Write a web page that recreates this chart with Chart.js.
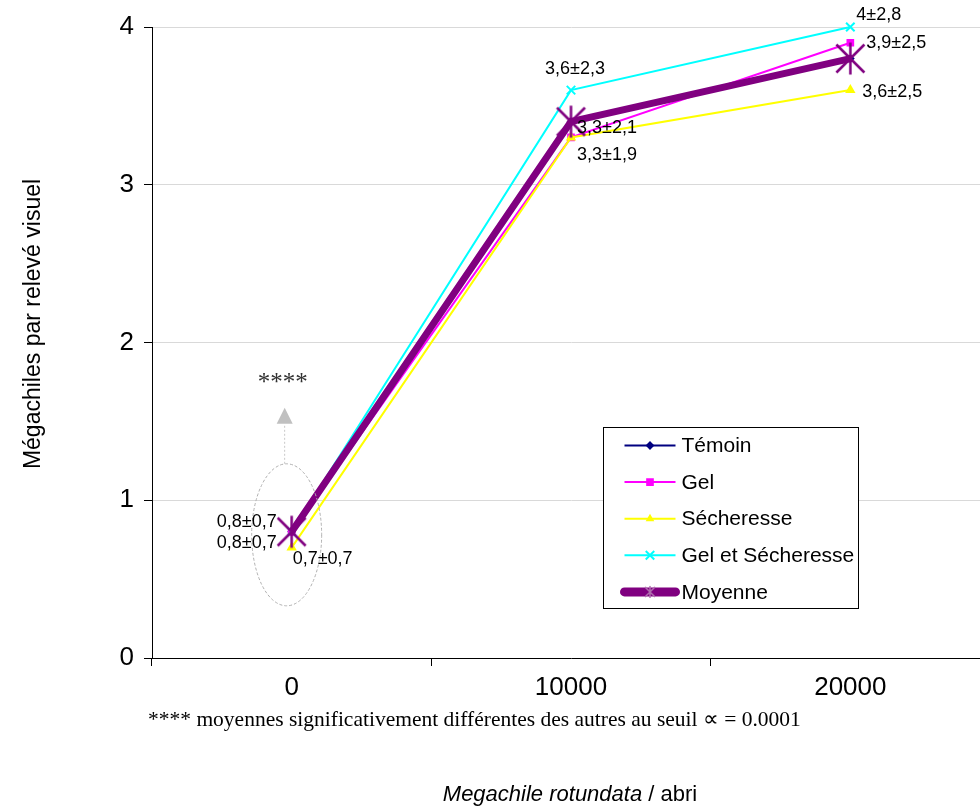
<!DOCTYPE html>
<html>
<head>
<meta charset="utf-8">
<script src="https://cdn.jsdelivr.net/npm/chart.js@4.4.1/dist/chart.umd.min.js"></script>
<style>
  html, body { margin: 0; padding: 0; background: #fff; overflow: hidden; width: 980px; height: 809px; }
  #wrap { position: relative; width: 1013px; height: 809px; }
  canvas { display: block; }
</style>
</head>
<body>
<div id="wrap"><canvas id="c" width="1013" height="809"></canvas></div>
<script>
// Abris : nombre de Megachile rotundata lâchées par abri
const categories = ['0', '10000', '20000'];

// Moyennes par relevé visuel et écarts-types
const temoin = [0.8, 3.4, 3.8];
const gel = [0.8, 3.3, 3.9];
const gelSd = [0.7, 2.1, 2.5];
const secheresse = [0.7, 3.3, 3.6];
const secheresseSd = [0.7, 1.9, 2.5];
const gelSecheresse = [0.8, 3.6, 4];
const gelSecheresseSd = [0.7, 2.3, 2.8];
const moyenne = [0.8, 3.4, 3.8];

const yTicks = [0, 1, 2, 3, 4];

const SANS = "'Liberation Sans', Arial, sans-serif";
const SERIF = "'Liberation Serif', 'Times New Roman', serif";

// Marqueur étoile (X + trait vertical) pour la moyenne
function starMarker(rv, rd, color, lw) {
  const s = Math.ceil(2 * Math.max(rv, rd) + lw + 2);
  const c = document.createElement('canvas');
  c.width = c.height = s;
  const g = c.getContext('2d');
  const m = s / 2;
  g.strokeStyle = color;
  g.lineWidth = lw;
  g.beginPath();
  g.moveTo(m, m - rv); g.lineTo(m, m + rv);
  g.moveTo(m - rd, m - rd); g.lineTo(m + rd, m + rd);
  g.moveTo(m + rd, m - rd); g.lineTo(m - rd, m + rd);
  g.stroke();
  return c;
}
const bigStar = starMarker(16, 14, '#800080', 2.5);
const smallStar = starMarker(6, 5, '#b070b0', 1.5);

const fmt = v => String(v).replace('.', ',');

// Étiquettes "moyenne ± écart-type" : décalage (dx, dy) et alignement par point
const labelSpecs = [
  { ds: 1, sd: gelSd, pos: [[-15, -10, 'right'], [6, -9, 'left'], [16, 0, 'left']] },
  { ds: 2, sd: secheresseSd, pos: [[1, 11, 'left'], [6, 18, 'left'], [12, 2, 'left']] },
  { ds: 3, sd: gelSecheresseSd, pos: [[-15, 11, 'right'], [4, -21, 'center'], [6, -12, 'left']] }
];

const valueLabels = {
  id: 'valueLabels',
  afterDatasetsDraw(chart) {
    const ctx = chart.ctx;
    ctx.save();
    ctx.font = '18px ' + SANS;
    ctx.fillStyle = '#000';
    ctx.textBaseline = 'middle';
    labelSpecs.forEach(spec => {
      const meta = chart.getDatasetMeta(spec.ds);
      const data = chart.data.datasets[spec.ds].data;
      meta.data.forEach((pt, i) => {
        const [dx, dy, align] = spec.pos[i];
        ctx.textAlign = align;
        ctx.fillText(fmt(data[i]) + '±' + fmt(spec.sd[i]), pt.x + dx, pt.y + dy);
      });
    });
    ctx.restore();
  }
};

// Ellipse, flèche et astérisques autour du point 0
const annotations = {
  id: 'annotations',
  afterDatasetsDraw(chart) {
    const ctx = chart.ctx;
    const xs = chart.scales.x, ys = chart.scales.y;
    const cx = xs.getPixelForValue(0) - 5;
    const cy = ys.getPixelForValue(moyenne[0]) + 3;
    ctx.save();
    ctx.strokeStyle = '#b0b0b0';
    ctx.lineWidth = 1;
    ctx.setLineDash([3, 2]);
    ctx.beginPath();
    ctx.ellipse(cx, cy, 35, 71, 0, 0, Math.PI * 2);
    ctx.stroke();
    const ax = cx - 2;
    ctx.strokeStyle = '#c8c8c8';
    ctx.setLineDash([2, 2]);
    ctx.beginPath();
    ctx.moveTo(ax, cy - 71);
    ctx.lineTo(ax, cy - 111);
    ctx.stroke();
    ctx.setLineDash([]);
    ctx.fillStyle = '#c0c0c0';
    ctx.beginPath();
    ctx.moveTo(ax, cy - 127);
    ctx.lineTo(ax - 8, cy - 111);
    ctx.lineTo(ax + 8, cy - 111);
    ctx.closePath();
    ctx.fill();
    ctx.fillStyle = '#333';
    ctx.font = '25px ' + SERIF;
    ctx.textAlign = 'center';
    ctx.textBaseline = 'middle';
    ctx.fillText('****', ax - 2, cy - 151);
    ctx.restore();
  }
};

// Légende encadrée dans la zone de tracé
const boxLegend = {
  id: 'boxLegend',
  afterDraw(chart) {
    const ctx = chart.ctx;
    const bx = 603.5, by = 427.5, bw = 255, bh = 181;
    ctx.save();
    ctx.fillStyle = '#fff';
    ctx.fillRect(bx, by, bw, bh);
    ctx.strokeStyle = '#000';
    ctx.lineWidth = 1;
    ctx.strokeRect(bx, by, bw, bh);
    ctx.font = '21px ' + SANS;
    ctx.textBaseline = 'middle';
    ctx.textAlign = 'left';
    chart.data.datasets.forEach((ds, i) => {
      const y = by + 18 + i * 36.6;
      ctx.strokeStyle = ds.borderColor;
      ctx.fillStyle = ds.backgroundColor;
      ctx.lineWidth = ds.label === 'Moyenne' ? 9 : 2;
      ctx.lineCap = ds.label === 'Moyenne' ? 'round' : 'butt';
      ctx.beginPath();
      ctx.moveTo(bx + 21, y);
      ctx.lineTo(bx + 72, y);
      ctx.stroke();
      ctx.lineCap = 'butt';
      const style = ds.label === 'Moyenne' ? smallStar : ds.pointStyle;
      Chart.helpers.drawPoint(ctx, {
        pointStyle: style,
        radius: ds.legendRadius,
        rotation: 0,
        borderWidth: ds.pointBorderWidth || 1
      }, bx + 46.5, y);
      ctx.fillStyle = '#000';
      ctx.fillText(ds.label, bx + 78, y + 1);
    });
    ctx.restore();
  }
};

// Titres d'axes et note de bas de figure
const texts = {
  id: 'texts',
  afterDraw(chart) {
    const ctx = chart.ctx;
    const a = chart.chartArea;
    ctx.save();
    ctx.fillStyle = '#000';
    // titre de l'axe vertical
    ctx.save();
    ctx.translate(34, 324);
    ctx.rotate(-Math.PI / 2);
    ctx.font = '23px ' + SANS;
    ctx.textAlign = 'center';
    ctx.textBaseline = 'middle';
    ctx.fillText('Mégachiles par relevé visuel', 0, 0);
    ctx.restore();
    // note
    ctx.font = '21.5px ' + SERIF;
    ctx.textAlign = 'left';
    ctx.textBaseline = 'middle';
    ctx.fillText('**** moyennes significativement différentes des autres au seuil ∝ = 0.0001', 148, a.bottom + 62);
    // titre de l'axe horizontal
    const italic = 'Megachile rotundata';
    const normal = ' / abri';
    ctx.font = 'italic 22px ' + SANS;
    const w1 = ctx.measureText(italic).width;
    ctx.font = '22px ' + SANS;
    const w2 = ctx.measureText(normal).width;
    const x0 = 570 - (w1 + w2) / 2;
    ctx.font = 'italic 22px ' + SANS;
    ctx.fillText(italic, x0, 795);
    ctx.font = '22px ' + SANS;
    ctx.fillText(normal, x0 + w1, 795);
    ctx.restore();
  }
};

const datasets = [
  { label: 'Témoin', data: temoin, borderColor: '#000080', backgroundColor: '#000080',
    borderWidth: 2, pointStyle: 'rectRot', pointRadius: 3, legendRadius: 3, order: 4 },
  { label: 'Gel', data: gel, borderColor: '#FF00FF', backgroundColor: '#FF00FF',
    borderWidth: 2, pointStyle: 'rect', pointRadius: 4, legendRadius: 4, order: 3 },
  { label: 'Sécheresse', data: secheresse, borderColor: '#FFFF00', backgroundColor: '#FFFF00',
    borderWidth: 2, pointStyle: 'triangle', pointRadius: 4, legendRadius: 3, order: 2 },
  { label: 'Gel et Sécheresse', data: gelSecheresse, borderColor: '#00FFFF', backgroundColor: '#00FFFF',
    borderWidth: 2, pointStyle: 'crossRot', pointRadius: 6, pointBorderWidth: 2, legendRadius: 6, order: 1 },
  { label: 'Moyenne', data: moyenne, borderColor: '#800080', backgroundColor: '#800080',
    borderWidth: 7, pointStyle: bigStar, pointRadius: 16, legendRadius: 6, order: 0 }
];
datasets.forEach(d => { d.clip = false; d.tension = 0; d.pointBorderColor = d.borderColor; d.pointBackgroundColor = d.backgroundColor; });

new Chart(document.getElementById('c'), {
  type: 'line',
  data: { labels: categories, datasets },
  options: {
    responsive: false,
    maintainAspectRatio: false,
    animation: false,
    devicePixelRatio: 1,
    layout: { padding: { top: 27, right: 0, left: 0, bottom: 0 } },
    plugins: { legend: { display: false }, tooltip: { enabled: false } },
    scales: {
      x: {
        type: 'category',
        offset: true,
        grid: { display: true, drawOnChartArea: false, drawTicks: true, tickLength: 8, tickColor: '#000', offset: true },
        border: { color: '#000', width: 1 },
        ticks: { font: { family: SANS, size: 26 }, color: '#000', padding: 6, maxRotation: 0 },
        afterFit: s => { s.height = 151; }
      },
      y: {
        min: 0, max: 4,
        afterBuildTicks: s => { s.ticks = yTicks.map(v => ({ value: v })); },
        ticks: { font: { family: SANS, size: 26 }, color: '#000', padding: 10 },
        grid: { color: '#d9d9d9', tickColor: '#000', tickLength: 8 },
        border: { color: '#000', width: 1 },
        afterFit: s => { s.width = 152; }
      }
    }
  },
  plugins: [annotations, valueLabels, boxLegend, texts]
});
</script>
</body>
</html>
